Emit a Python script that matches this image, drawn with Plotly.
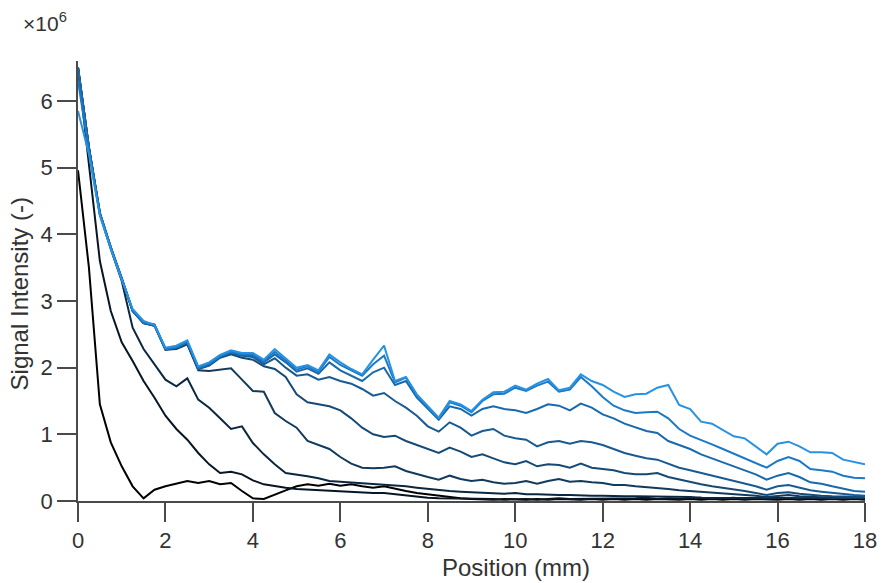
import numpy as np
import plotly.graph_objects as go

# Position grid along the sample (mm), 0.25 mm step
position_mm = np.round(np.arange(0, 18.0001, 0.25), 2)

# Signal intensity profiles (x1e6), one list per acquisition, earliest first
profile_1 = [5.85, 5.2, 4.28, 3.78, 3.32, 2.88, 2.7, 2.64, 2.3, 2.33, 2.41, 2.02,
             2.08, 2.19, 2.26, 2.22, 2.22, 2.12, 2.28, 2.14, 2.0, 2.04, 1.96, 2.2,
             2.08, 1.98, 1.9, 2.12, 2.33, 1.8, 1.86, 1.6, 1.42, 1.25, 1.5, 1.45,
             1.35, 1.52, 1.63, 1.64, 1.73, 1.67, 1.76, 1.83, 1.66, 1.7, 1.9, 1.8,
             1.74, 1.64, 1.56, 1.6, 1.61, 1.7, 1.74, 1.44, 1.38, 1.19, 1.16, 1.07,
             0.97, 0.94, 0.82, 0.7, 0.86, 0.89, 0.82, 0.73, 0.73, 0.72, 0.62, 0.58,
             0.55]
profile_2 = [6.3, 5.25, 4.3, 3.8, 3.33, 2.86, 2.68, 2.65, 2.28, 2.31, 2.39, 2.0,
             2.06, 2.17, 2.24, 2.2, 2.2, 2.1, 2.24, 2.11, 1.97, 2.02, 1.94, 2.16,
             2.04, 1.96, 1.88, 2.05, 2.18, 1.78, 1.85, 1.58, 1.41, 1.24, 1.48, 1.43,
             1.33, 1.5, 1.6, 1.61, 1.7, 1.65, 1.73, 1.79, 1.64, 1.67, 1.86, 1.72,
             1.56, 1.43, 1.36, 1.32, 1.33, 1.34, 1.24, 1.08, 0.98, 0.92, 0.85, 0.78,
             0.71, 0.64, 0.56, 0.5, 0.6, 0.66, 0.6, 0.48, 0.46, 0.44, 0.38, 0.35,
             0.34]
profile_3 = [6.5, 5.3, 4.32, 3.8, 3.34, 2.85, 2.67, 2.64, 2.28, 2.3, 2.38, 1.99,
             2.05, 2.17, 2.23, 2.19, 2.18, 2.08, 2.2, 2.08, 1.94, 1.99, 1.91, 2.08,
             1.96, 1.88, 1.8, 1.93, 2.0, 1.74, 1.8, 1.55, 1.38, 1.22, 1.42, 1.38,
             1.28, 1.38, 1.42, 1.38, 1.36, 1.32, 1.38, 1.45, 1.43, 1.36, 1.46, 1.4,
             1.3, 1.24, 1.16, 1.1, 1.05, 1.02, 0.9, 0.84, 0.78, 0.7, 0.64, 0.58,
             0.52, 0.46, 0.4, 0.32, 0.38, 0.42, 0.36, 0.28, 0.26, 0.22, 0.18, 0.15,
             0.14]
profile_4 = [6.5, 5.3, 4.32, 3.8, 3.34, 2.85, 2.67, 2.64, 2.28, 2.3, 2.37, 1.98,
             2.04, 2.16, 2.22, 2.18, 2.16, 2.05, 2.14, 2.0, 1.88, 1.9, 1.82, 1.86,
             1.8, 1.76, 1.68, 1.58, 1.62, 1.5, 1.4, 1.28, 1.12, 1.04, 1.18, 1.1,
             0.98, 1.05, 1.08, 0.98, 0.94, 0.92, 0.82, 0.88, 0.9, 0.86, 0.9, 0.88,
             0.84, 0.78, 0.72, 0.68, 0.64, 0.62, 0.56, 0.5, 0.46, 0.42, 0.38, 0.34,
             0.3, 0.27, 0.22, 0.17, 0.22, 0.24, 0.2, 0.16, 0.14, 0.12, 0.1, 0.09,
             0.08]
profile_5 = [6.5, 5.3, 4.32, 3.8, 3.34, 2.85, 2.67, 2.63, 2.27, 2.29, 2.36, 1.98,
             2.03, 2.15, 2.2, 2.15, 2.12, 2.02, 1.98, 1.86, 1.6, 1.48, 1.45, 1.42,
             1.36, 1.24, 1.1, 1.0, 0.96, 0.98, 0.9, 0.84, 0.78, 0.72, 0.8, 0.74,
             0.66, 0.7, 0.64, 0.58, 0.55, 0.6, 0.52, 0.55, 0.54, 0.5, 0.56, 0.5,
             0.48, 0.46, 0.42, 0.4, 0.4, 0.42, 0.36, 0.32, 0.28, 0.25, 0.22, 0.2,
             0.17, 0.15, 0.12, 0.09, 0.12, 0.13, 0.11, 0.09, 0.08, 0.07, 0.07, 0.06,
             0.06]
profile_6 = [6.5, 5.3, 4.32, 3.8, 3.34, 2.85, 2.67, 2.63, 2.27, 2.28, 2.35, 1.96,
             1.95, 1.97, 1.99, 1.82, 1.65, 1.64, 1.32, 1.2, 1.1, 0.9, 0.84, 0.78,
             0.66, 0.56, 0.5, 0.49, 0.5, 0.52, 0.45, 0.4, 0.36, 0.32, 0.38, 0.33,
             0.3, 0.32, 0.28, 0.26, 0.27, 0.3, 0.26, 0.3, 0.33, 0.29, 0.3, 0.28,
             0.27, 0.24, 0.24, 0.22, 0.21, 0.2, 0.18, 0.16, 0.15, 0.13, 0.12, 0.11,
             0.1, 0.09, 0.08, 0.06, 0.08, 0.09, 0.07, 0.06, 0.06, 0.05, 0.05, 0.05,
             0.05]
profile_7 = [6.5, 5.3, 4.3, 3.78, 3.3, 2.6, 2.28, 2.05, 1.82, 1.72, 1.84, 1.52,
             1.4, 1.24, 1.08, 1.12, 0.87, 0.7, 0.55, 0.42, 0.4, 0.37, 0.34, 0.3,
             0.29, 0.28, 0.27, 0.26, 0.25, 0.24, 0.22, 0.2, 0.18, 0.16, 0.15, 0.14,
             0.13, 0.12, 0.12, 0.11, 0.12, 0.1, 0.1, 0.09, 0.09, 0.09, 0.08, 0.08,
             0.08, 0.07, 0.07, 0.07, 0.07, 0.06, 0.06, 0.06, 0.06, 0.05, 0.05, 0.05,
             0.05, 0.05, 0.04, 0.04, 0.05, 0.05, 0.04, 0.04, 0.04, 0.04, 0.04, 0.04,
             0.04]
profile_8 = [6.5, 5.0, 3.6, 2.85, 2.38, 2.1, 1.8, 1.55, 1.28, 1.08, 0.92, 0.72,
             0.55, 0.42, 0.44, 0.4, 0.31, 0.25, 0.22, 0.2, 0.18, 0.17, 0.16, 0.15,
             0.14, 0.14, 0.13, 0.12, 0.12, 0.1, 0.08, 0.06, 0.05, 0.04, 0.04, 0.03,
             0.03, 0.04, 0.03, 0.02, 0.03, 0.03, 0.02, 0.03, 0.04, 0.03, 0.03, 0.04,
             0.03, 0.04, 0.03, 0.04, 0.05, 0.03, 0.04, 0.03, 0.04, 0.05, 0.03, 0.04,
             0.05, 0.03, 0.04, 0.03, 0.05, 0.04, 0.03, 0.05, 0.04, 0.03, 0.04, 0.05,
             0.04]
profile_9 = [4.96, 3.5, 1.45, 0.88, 0.52, 0.22, 0.04, 0.17, 0.22, 0.26, 0.3, 0.27,
             0.3, 0.25, 0.27, 0.15, 0.04, 0.03, 0.1, 0.16, 0.22, 0.25, 0.23, 0.26,
             0.23, 0.25, 0.22, 0.2, 0.22, 0.18, 0.15, 0.12, 0.1, 0.07, 0.05, 0.04,
             0.03, 0.02, 0.02, 0.03, 0.02, 0.02, 0.03, 0.02, 0.03, 0.02, 0.02, 0.03,
             0.02, 0.03, 0.02, 0.03, 0.02, 0.03, 0.02, 0.02, 0.03, 0.02, 0.03, 0.02,
             0.03, 0.02, 0.03, 0.02, 0.02, 0.03, 0.02, 0.03, 0.02, 0.03, 0.02, 0.03,
             0.02]

# Darkest (earliest, drawn first) to lightest blue (latest, on top)
profiles = [profile_9, profile_8, profile_7, profile_6, profile_5,
            profile_4, profile_3, profile_2, profile_1]
line_colors = ["rgb(0,0,0)", "rgb(6,22,36)", "rgb(12,40,64)", "rgb(18,58,92)",
               "rgb(22,74,118)", "rgb(24,90,146)", "rgb(24,106,172)",
               "rgb(26,122,200)", "rgb(40,146,226)"]

y_ticks = [0, 1, 2, 3, 4, 5, 6]
x_ticks = [0, 2, 4, 6, 8, 10, 12, 14, 16, 18]

FONT = "Liberation Sans, Arial, sans-serif"
AX = "#4a4a4a"
TXT = "#333333"

fig = go.Figure()
for prof, col in zip(profiles, line_colors):
    fig.add_trace(go.Scatter(
        x=position_mm, y=np.array(prof) * 1e6, mode="lines",
        line=dict(color=col, width=2), showlegend=False, hoverinfo="skip"))

axis_style = dict(showline=True, linecolor=AX, linewidth=1.5, ticks="outside",
                  ticklen=19, tickwidth=1.5, tickcolor=AX, showgrid=False,
                  zeroline=False, automargin=False,
                  tickfont=dict(size=22, color=TXT, family=FONT))

fig.update_layout(
    width=883, height=583,
    margin=dict(l=78, r=18, t=61, b=82),
    paper_bgcolor="white", plot_bgcolor="white",
    font=dict(family=FONT, size=22, color=TXT),
    xaxis=dict(range=[0, 18], tickvals=x_ticks,
               ticktext=[str(v) for v in x_ticks], **axis_style),
    yaxis=dict(range=[0, 6.6e6], tickvals=[v * 1e6 for v in y_ticks],
               ticktext=[str(v) for v in y_ticks], **axis_style),
    annotations=[
        dict(text="Position (mm)", xref="paper", yref="paper", x=0.557, y=-0.15,
             xanchor="center", yanchor="middle", showarrow=False,
             font=dict(size=24, color=TXT, family=FONT)),
        dict(text="Signal Intensity (-)", xref="paper", yref="paper", x=-0.055,
             y=0.47, textangle=-90, xanchor="right", yanchor="middle",
             showarrow=False, font=dict(size=24, color=TXT, family=FONT)),
        dict(text="×10<sup>6</sup>", xref="paper", yref="paper", x=-0.072,
             y=1.055, xanchor="left", yanchor="bottom", showarrow=False,
             font=dict(size=21, color=TXT, family=FONT)),
    ],
)

fig.write_html("out.html")
